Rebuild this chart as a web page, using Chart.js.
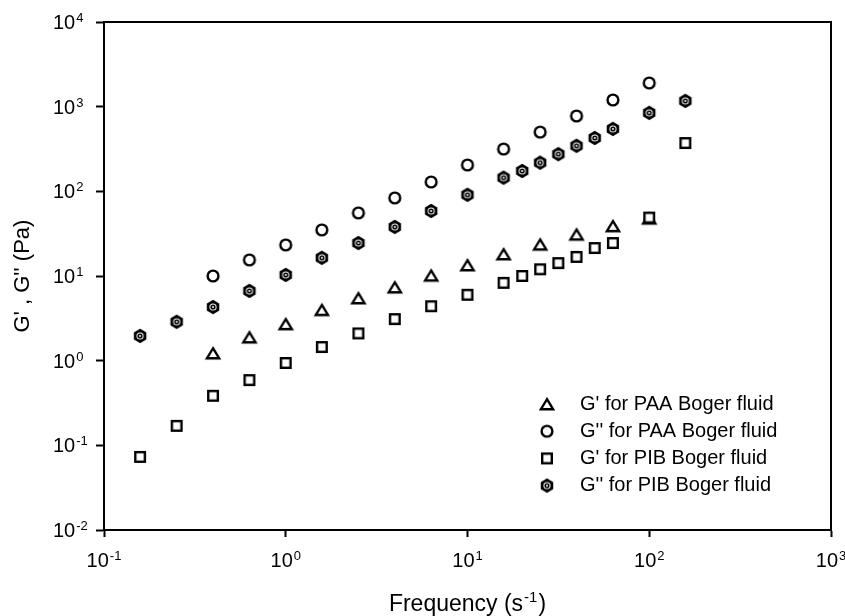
<!DOCTYPE html>
<html>
<head>
  <script src="https://cdn.jsdelivr.net/npm/chart.js"></script>
  <style>
    body { margin:0; background:#fff; }
    #wrap { width:845px; height:616px; }
  </style>
</head>
<body>
<div id="wrap"><canvas id="myChart" width="845" height="616"></canvas></div>
<script>
  // frequencies (1/s)
  var freqPAA = [0.398, 0.631, 1, 1.58, 2.51, 3.98, 6.31, 10, 15.8, 25.1, 39.8, 63.1, 100];
  var freqPIB = [0.158, 0.251, 0.398, 0.631, 1, 1.58, 2.51, 3.98, 6.31, 10, 15.8, 20, 25.1, 31.6, 39.8, 50.1, 63.1, 100, 158];

  // moduli (Pa)
  var gPrimePAA  = [1.23, 1.9, 2.72, 4.0, 5.5, 7.4, 10.2, 13.5, 18.2, 23.7, 31.1, 39.1, 48.1];
  var gDoublePAA = [10, 15.5, 23.3, 35, 55.6, 83.6, 129, 205, 316, 501, 776, 1200, 1905];
  var gPrimePIB  = [0.073, 0.17, 0.385, 0.59, 0.94, 1.45, 2.1, 3.1, 4.4, 6.0, 8.3, 10, 12, 14.2, 16.8, 21.4, 24.5, 49, 372];
  var gDoublePIB = [1.96, 2.88, 4.3, 6.67, 10.3, 16.4, 24.5, 38, 58.6, 91, 145, 174, 218, 275, 345, 427, 546, 845, 1170];

  var seriesLabels = ["G' for PAA Boger fluid", "G'' for PAA Boger fluid", "G' for PIB Boger fluid", "G'' for PIB Boger fluid"];

  var xTickValues = [0.1, 1, 10, 100, 1000];
  var yTickValues = [0.01, 0.1, 1, 10, 100, 1000, 10000];

  var FONT = "'Liberation Sans', Arial, sans-serif";

  function makeMarker(kind) {
    var c = document.createElement('canvas');
    c.width = 20; c.height = 20;
    var g = c.getContext('2d');
    g.strokeStyle = '#000'; g.fillStyle = '#000'; g.lineWidth = 2.4;
    if (kind == 'triangle') {
      g.lineJoin = 'miter';
      g.beginPath();
      g.moveTo(10, 5.2); g.lineTo(16.1, 15.2); g.lineTo(3.9, 15.2); g.closePath();
      g.fillStyle = '#fff'; g.fill(); g.stroke();
    } else if (kind == 'circle') {
      g.beginPath(); g.arc(10, 10, 5.4, 0, Math.PI*2);
      g.fillStyle = '#fff'; g.fill(); g.stroke();
    } else if (kind == 'square') {
      g.fillStyle = '#fff';
      g.fillRect(5.2, 5.2, 9.6, 9.6);
      g.strokeRect(5.2, 5.2, 9.6, 9.6);
    } else {
      g.beginPath();
      for (var i=0;i<6;i++) {
        var a = Math.PI/2 + i*Math.PI/3;
        var px = 10 + 7.2*Math.cos(a), py = 10 - 7.2*Math.sin(a);
        if (i==0) g.moveTo(px,py); else g.lineTo(px,py);
      }
      g.closePath(); g.fill();
      g.fillStyle = '#fff'; g.beginPath(); g.arc(10,10,3.6,0,Math.PI*2); g.fill();
      g.fillStyle = '#000'; g.beginPath(); g.arc(10,10,2.6,0,Math.PI*2); g.fill();
      g.fillStyle = '#fff'; g.beginPath(); g.arc(10,10,1.0,0,Math.PI*2); g.fill();
    }
    return c;
  }

  var markers = [makeMarker('triangle'), makeMarker('circle'), makeMarker('square'), makeMarker('hexagon')];

  function pts(xs, ys) {
    var out = [];
    for (var i=0;i<xs.length;i++) out.push({x:xs[i], y:ys[i]});
    return out;
  }

  var dataSets = [
    {label:seriesLabels[2], data:pts(freqPIB, gPrimePIB),  pointStyle:markers[2]},
    {label:seriesLabels[0], data:pts(freqPAA, gPrimePAA),  pointStyle:markers[0]},
    {label:seriesLabels[1], data:pts(freqPAA, gDoublePAA), pointStyle:markers[1]},
    {label:seriesLabels[3], data:pts(freqPIB, gDoublePIB), pointStyle:markers[3]},
  ];
  dataSets.forEach(function(d){ d.showLine = false; d.pointRadius = 7; d.pointHoverRadius = 7; });

  // draws "10" with a raised exponent
  function drawPow(ctx, exp, x, baseline, align) {
    var baseFont = "20px " + FONT, supFont = "13px " + FONT;
    ctx.font = baseFont; var wb = ctx.measureText("10").width;
    ctx.font = supFont; var we = ctx.measureText(exp).width;
    var x0 = align == 'center' ? x - (wb + we + 1)/2 : x;
    ctx.textAlign = 'left';
    ctx.textBaseline = 'alphabetic';
    ctx.font = baseFont; ctx.fillText("10", x0, baseline);
    ctx.font = supFont; ctx.fillText(exp, x0 + wb + 1, baseline - 7);
  }

  var powTicksPlugin = {
    id: 'powTicks',
    afterDraw: function(chart) {
      var ctx = chart.ctx;
      ctx.save();
      ctx.fillStyle = '#000';
      var sx = chart.scales.x, sy = chart.scales.y;
      sx.ticks.forEach(function(t){
        var e = String(Math.round(Math.log10(t.value)));
        drawPow(ctx, e, sx.getPixelForValue(t.value), 567, 'center');
      });
      sy.ticks.forEach(function(t){
        var e = String(Math.round(Math.log10(t.value)));
        drawPow(ctx, e, 53, sy.getPixelForValue(t.value) + 7, 'left');
      });
      // x axis title with superscript
      var cx = (chart.chartArea.left + chart.chartArea.right)/2;
      var big = "23px " + FONT, small = "15px " + FONT;
      ctx.font = big; var w1 = ctx.measureText("Frequency (s").width, w3 = ctx.measureText(")").width;
      ctx.font = small; var w2 = ctx.measureText("-1").width;
      var x0 = cx - (w1 + w2 + w3 + 2)/2, base = 611;
      ctx.textAlign = 'left'; ctx.textBaseline = 'alphabetic';
      ctx.font = big; ctx.fillText("Frequency (s", x0, base);
      ctx.font = small; ctx.fillText("-1", x0 + w1 + 1, base - 9);
      ctx.font = big; ctx.fillText(")", x0 + w1 + w2 + 2, base);
      ctx.restore();
    }
  };

  var boxPlugin = {
    id: 'box',
    afterDraw: function(chart) {
      var a = chart.chartArea, ctx = chart.ctx;
      ctx.save();
      ctx.strokeStyle = '#000'; ctx.lineWidth = 2;
      ctx.strokeRect(a.left, a.top, a.right - a.left, a.bottom - a.top);
      ctx.restore();
    }
  };

  var legendPlugin = {
    id: 'innerLegend',
    afterDraw: function(chart) {
      var ctx = chart.ctx;
      ctx.save();
      ctx.font = "20px " + FONT;
      ctx.fillStyle = '#000';
      ctx.textBaseline = 'middle';
      for (var i=0;i<4;i++) {
        var y = 404 + i*27.2;
        ctx.drawImage(markers[i], 547-10, y-10);
        ctx.fillText(seriesLabels[i], 580, y);
      }
      ctx.restore();
    }
  };

  Chart.defaults.font.family = FONT;
  Chart.defaults.color = '#000';

  new Chart(document.getElementById('myChart'), {
    type: 'scatter',
    data: { datasets: dataSets },
    plugins: [boxPlugin, powTicksPlugin, legendPlugin],
    options: {
      responsive: false,
      animation: false,
      layout: { padding: { top: 22, right: 14, left: 0, bottom: 0 } },
      plugins: { legend: { display: false }, tooltip: { enabled: false } },
      scales: {
        x: {
          type: 'logarithmic', min: 0.1, max: 1000, position: 'bottom',
          afterBuildTicks: function(s){ s.ticks = xTickValues.map(function(v){ return {value:v}; }); },
          afterFit: function(s){ s.height = 86; s.paddingLeft = 0; s.paddingRight = 0; },
          grid: { drawOnChartArea: false, drawTicks: true, tickLength: 7, tickWidth: 2, tickColor: '#000' },
          border: { display: true, color: '#000', width: 2 },
          ticks: { display: false },
          title: { display: false }
        },
        y: {
          type: 'logarithmic', min: 0.01, max: 10000, position: 'left',
          afterBuildTicks: function(s){ s.ticks = yTickValues.map(function(v){ return {value:v}; }); },
          afterFit: function(s){ s.width = 104; s.paddingTop = 0; s.paddingBottom = 0; },
          grid: { drawOnChartArea: false, drawTicks: true, tickLength: 8, tickWidth: 2, tickColor: '#000' },
          border: { display: true, color: '#000', width: 2 },
          ticks: { display: false },
          title: { display: true, text: "G' , G'' (Pa)", font: { size: 22 }, padding: { top: 10, bottom: 0 } }
        }
      }
    }
  });
</script>
</body>
</html>
